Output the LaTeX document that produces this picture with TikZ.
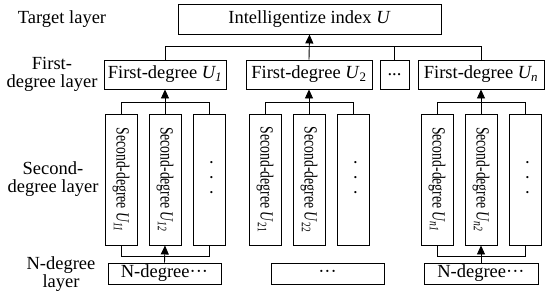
\documentclass[tikz,border=0pt]{standalone}
\usepackage{fontspec}
\setmainfont{Liberation Serif}
\usetikzlibrary{arrows.meta}
\begin{document}
\begin{tikzpicture}[x=1pt,y=-1pt,
  every node/.style={font=\fontsize{18.5}{18}\selectfont},
  hbox/.style={draw, line width=0.9pt, inner sep=0pt, minimum height=29pt},
  vbox/.style={draw, line width=0.9pt, inner sep=0pt, minimum width=32pt, minimum height=131pt},
  nbox/.style={draw, line width=0.9pt, inner sep=0pt, minimum width=113pt, minimum height=21pt},
  vtext/.style={rotate=-90, inner sep=0pt},
  lbl/.style={align=center, inner sep=0pt},
  conn/.style={line width=0.9pt},
  arr/.style={line width=0.9pt, -{Triangle[length=9pt,width=8pt]}}
]
\useasboundingbox (0,0) rectangle (550,295);
\newcommand{\vt}[1]{\scalebox{0.74}[1]{#1}}
\newcommand{\vdotsx}{·\hspace{9pt}·\hspace{9pt}·}
% left labels
\node[lbl] (L1) at (62,19) {Target layer};
\node[lbl] (L2) at (52,74) {First-\\degree layer};
\node[lbl] (L3) at (53,179) {Second-\\degree layer};
\node[lbl] (L4) at (61,274) {N-degree\\layer};
% top
\node[hbox, minimum width=263pt, minimum height=30pt] (T) at (309.5,19) {Intelligentize index \textit{U}};
% first degree
\node[hbox, minimum width=122pt] (F1) at (165,74.5) {First-degree \textit{U\textsubscript{1}}};
\node[hbox, minimum width=126pt] (F2) at (309,74.5) {First-degree \textit{U}\textsubscript{2}};
\node[hbox, minimum width=29pt] (Fd) at (394.5,74.5) {...};
\node[hbox, minimum width=126pt] (Fn) at (481,74.5) {First-degree \textit{U\textsubscript{n}}};
% second degree group 1
\node[vbox] (S11) at (121,179.5) {};
\node[vbox] (S12) at (165,179.5) {};
\node[vbox] (S13) at (209,179.5) {};
\node[vtext] at (S11) {\vt{Second-degree \textit{U\textsubscript{11}}}};
\node[vtext] at (S12) {\vt{Second-degree \textit{U\textsubscript{12}}}};
\node[vtext] at ([yshift=2pt]S13.center) {\vdotsx};
% group 2
\node[vbox] (S21) at (265,179.5) {};
\node[vbox] (S22) at (309,179.5) {};
\node[vbox] (S23) at (353,179.5) {};
\node[vtext] at (S21) {\vt{Second-degree \textit{U}\textsubscript{21}}};
\node[vtext] at (S22) {\vt{Second-degree \textit{U}\textsubscript{22}}};
\node[vtext] at ([yshift=2pt]S23.center) {\vdotsx};
% group 3
\node[vbox] (S31) at (437,179.5) {};
\node[vbox] (S32) at (481,179.5) {};
\node[vbox] (S33) at (525,179.5) {};
\node[vtext] at (S31) {\vt{Second-degree \textit{U\textsubscript{n1}}}};
\node[vtext] at (S32) {\vt{Second-degree \textit{U\textsubscript{n2}}}};
\node[vtext] at ([yshift=2pt]S33.center) {\vdotsx};
% N degree
\node[nbox] (N1) at (164.5,273.5) {N-degree···};
\node[nbox] (N2) at (327.5,273.5) {···};
\node[nbox, minimum width=114pt] (N3) at (481,273.5) {N-degree···};
% top bus
\draw[conn] (F1.north) -- ++(0,-13) coordinate (b1) -| (Fn.north);
\draw[conn] (Fd.north) -- (Fd.north |- b1);
\draw[arr] (F2.north) -- (T.south);
% second buses
\foreach \g/\F in {1/F1,2/F2,3/Fn}{
  \draw[conn] (S\g1.north) -- ++(0,-11) -| (S\g3.north);
  \draw[arr] (S\g2.north) -- (\F.south);
}
% bottom buses
\draw[conn] (S11.south) -- ++(0,11) -| (S13.south);
\draw[arr] (N1.north) -- (S12.south);
\draw[conn] (S31.south) -- ++(0,11) -| (S33.south);
\draw[arr] (N3.north) -- (S32.south);
\end{tikzpicture}
\end{document}
